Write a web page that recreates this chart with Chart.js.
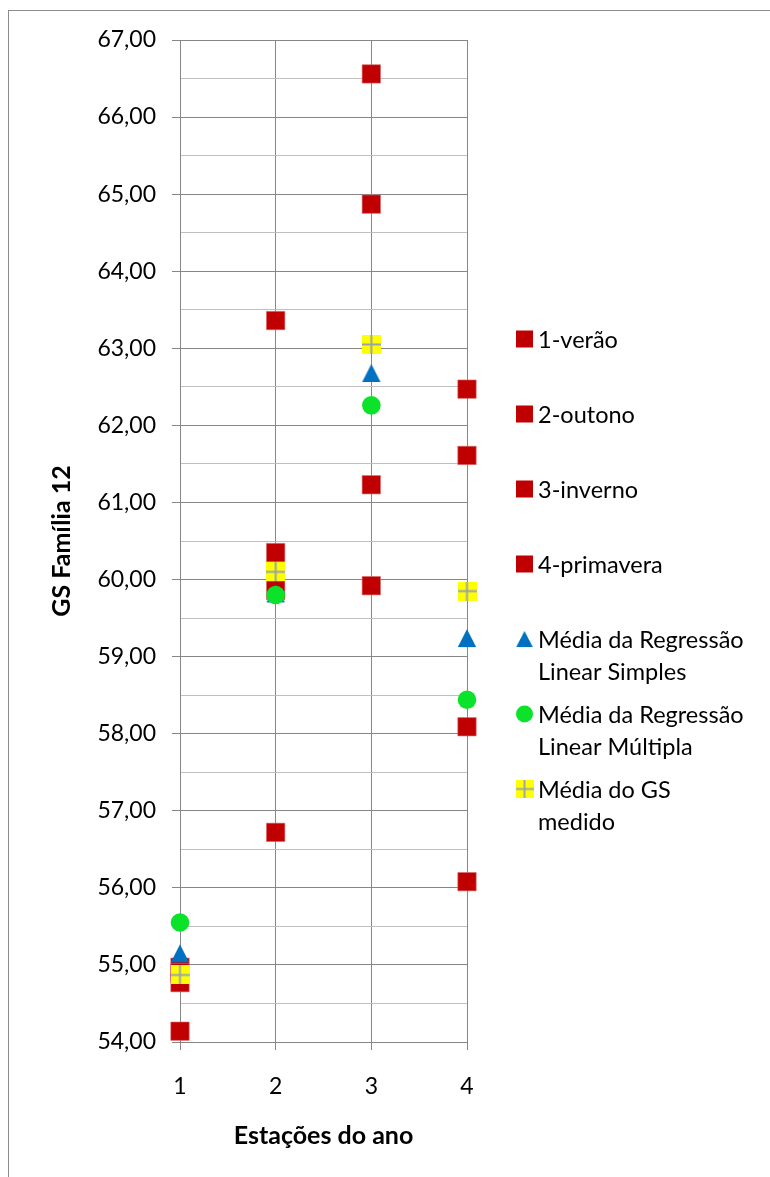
<!DOCTYPE html>
<html>
<head>
<meta charset="utf-8">
<script src="https://cdn.jsdelivr.net/npm/chart.js@4.4.1/dist/chart.umd.min.js"></script>
<style>
  html, body { margin: 0; padding: 0; background: #fff; }
</style>
</head>
<body>
<canvas id="gsChart" width="770" height="1177"></canvas>
<script>
// data
var seasons = [1, 2, 3, 4];
var verao = [54.97, 63.36, 66.56, 62.47];
var outono = [54.90, 60.35, 64.87, 61.61];
var inverno = [54.77, 59.86, 61.23, 58.09];
var primavera = [54.14, 56.72, 59.92, 56.08];
var regSimples = [55.15, 59.82, 62.68, 59.24];
var regMultipla = [55.55, 59.80, 62.26, 58.44];
var gsMedido = [54.87, 60.10, 63.05, 59.85];

var legendNames = [
    ['1-verão'],
    ['2-outono'],
    ['3-inverno'],
    ['4-primavera'],
    ['Média da Regressão', 'Linear Simples'],
    ['Média da Regressão', 'Linear Múltipla'],
    ['Média do GS', 'medido']
];

var yTitle = 'GS Família 12';
var xTitle = 'Estações do ano';

//
// little marker canvases for the Excel style triangle and plus
//
function triangleMarker(color) {
    var c = document.createElement('canvas');
    c.width = 20; c.height = 20;
    var g = c.getContext('2d');
    g.fillStyle = color;
    g.beginPath();
    g.moveTo(10, 1);
    g.lineTo(19.2, 19);
    g.lineTo(0.8, 19);
    g.closePath();
    g.fill();
    return c;
}

function plusMarker(fill, line) {
    var c = document.createElement('canvas');
    c.width = 19; c.height = 19;
    var g = c.getContext('2d');
    g.fillStyle = fill;
    g.fillRect(0, 0, 19, 19);
    g.fillStyle = line;
    g.fillRect(8.5, 0, 2, 19);
    g.fillRect(0, 8.5, 19, 2);
    return c;
}

function toPoints(values) {
    return values.map(function (v, i) {
        return { x: seasons[i], y: v };
    });
}

var red = '#C00000';
var tri = triangleMarker('#0070C0');
var plus = plusMarker('#FFFF00', '#9AA3AD');

function redSeries(i, values) {
    return {
        label: legendNames[i].join(' '),
        data: toPoints(values),
        pointStyle: 'rect',
        pointRadius: 13,
        backgroundColor: red,
        borderColor: '#D86A6A',
        borderWidth: 0.6,
        clip: false,
        order: 10 - i
    };
}

var datasets = [
    redSeries(0, verao),
    redSeries(1, outono),
    redSeries(2, inverno),
    redSeries(3, primavera),
    {
        label: legendNames[4].join(' '),
        data: toPoints(regSimples),
        pointStyle: tri,
        pointRadius: 10,
        backgroundColor: '#0070C0',
        clip: false,
        order: 2
    },
    {
        label: legendNames[5].join(' '),
        data: toPoints(regMultipla),
        pointStyle: 'circle',
        pointRadius: 9.3,
        backgroundColor: '#0BE32B',
        borderColor: '#0BE32B',
        borderWidth: 0,
        clip: false,
        order: 1
    },
    {
        label: legendNames[6].join(' '),
        data: toPoints(gsMedido),
        pointStyle: plus,
        pointRadius: 10,
        backgroundColor: '#FFFF00',
        clip: false,
        order: 0
    }
];

// frame round the whole chart, like the Excel chart area
var framePlugin = {
    id: 'frame',
    beforeDraw: function (chart) {
        var ctx = chart.ctx;
        ctx.save();
        ctx.fillStyle = '#fff';
        ctx.fillRect(0, 0, chart.width, chart.height);
        ctx.strokeStyle = '#8C8C8C';
        ctx.lineWidth = 1;
        ctx.strokeRect(8.5, 10.5, chart.width + 20, chart.height + 20);
        ctx.restore();
    }
};

// legend on the right, with wrapped names
var sideLegend = {
    id: 'sideLegend',
    afterDraw: function (chart) {
        var ctx = chart.ctx;
        ctx.save();
        ctx.font = '23.5px Lato';
        ctx.textBaseline = 'middle';
        chart.data.datasets.forEach(function (ds, i) {
            var y = 339 + i * 75;
            var x = 524.5;
            ctx.fillStyle = ds.backgroundColor;
            if (ds.pointStyle === 'rect') {
                ctx.fillRect(x - 8.5, y - 8.5, 17, 17);
            } else if (ds.pointStyle === 'circle') {
                ctx.beginPath();
                ctx.arc(x, y, 8.5, 0, Math.PI * 2);
                ctx.fill();
            } else {
                ctx.drawImage(ds.pointStyle, x - 9, y - 9, 18, 18);
            }
            ctx.fillStyle = '#000';
            legendNames[i].forEach(function (line, j) {
                ctx.fillText(line, 538, y + 1 + j * 32);
            });
        });
        ctx.restore();
    }
};

var config = {
    type: 'scatter',
    data: { datasets: datasets },
    options: {
        responsive: false,
        animation: false,
        layout: {
            autoPadding: false,
            padding: { left: 10, right: 303, top: 40, bottom: 0 }
        },
        plugins: {
            legend: { display: false },
            tooltip: { enabled: false }
        },
        scales: {
            x: {
                type: 'linear',
                min: 1,
                max: 4,
                afterFit: function (scale) { scale.height = 135; },
                ticks: {
                    stepSize: 1,
                    color: '#000',
                    font: { family: 'Lato', size: 23 },
                    padding: 23
                },
                grid: {
                    color: '#868686',
                    tickColor: '#868686',
                    tickLength: 8
                },
                border: { color: '#868686' },
                title: {
                    display: true,
                    text: xTitle,
                    color: '#000',
                    font: { family: 'Lato', size: 25, weight: 'bold' },
                    padding: { top: 0, bottom: 26 }
                }
            },
            y: {
                min: 54,
                max: 67,
                afterFit: function (scale) { scale.width = 170; },
                ticks: {
                    stepSize: 0.5,
                    color: '#000',
                    font: { family: 'Lato', size: 23 },
                    padding: 16,
                    callback: function (v) {
                        return v % 1 === 0 ? v.toFixed(2).replace('.', ',') : '';
                    }
                },
                grid: {
                    color: function (c) {
                        return c.tick && c.tick.value % 1 !== 0 ? '#BFBFBF' : '#868686';
                    },
                    tickColor: function (c) {
                        return c.tick && c.tick.value % 1 !== 0 ? 'rgba(0,0,0,0)' : '#868686';
                    },
                    tickLength: 8
                },
                border: { color: '#868686' },
                title: {
                    display: true,
                    text: yTitle,
                    color: '#000',
                    font: { family: 'Lato', size: 25, weight: 'bold' },
                    padding: { top: 37, bottom: 0 }
                }
            }
        }
    },
    plugins: [framePlugin, sideLegend]
};

window.gsChart = new Chart(document.getElementById('gsChart').getContext('2d'), config);
</script>
</body>
</html>
